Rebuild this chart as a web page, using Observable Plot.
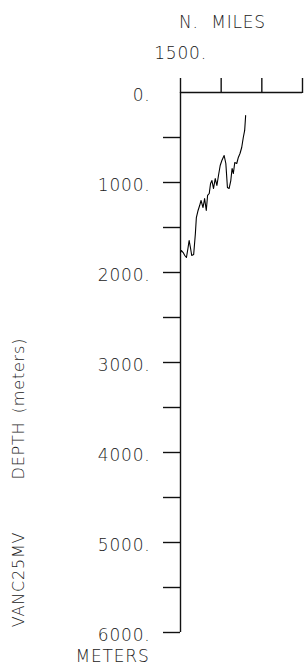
<!DOCTYPE html>
<html>
<head>
<meta charset="utf-8">
<script src="https://cdn.jsdelivr.net/npm/d3@7"></script>
<script src="https://cdn.jsdelivr.net/npm/@observablehq/plot@0.6"></script>
<style>
  html, body { margin: 0; padding: 0; background: #fff; }
</style>
</head>
<body>
<div id="chart"></div>
<script>
// Distance along track (nautical miles) and depth (meters)
const miles = [1500, 1502.4, 1506.6, 1510.5, 1514.6, 1518.3, 1521.2, 1524.4, 1527.6, 1532.4,
  1536.6, 1539, 1543.2, 1547.1, 1550.5, 1555.4, 1559.3, 1563.4, 1566.6, 1570.7,
  1573.9, 1577.3, 1581.2, 1585.4, 1589.5, 1593.4, 1597.6, 1601.7, 1607.3, 1611.5,
  1615.4, 1619.5, 1623.7, 1626.8, 1630, 1633.4, 1638.3, 1642.2, 1646.3, 1650.5,
  1654.4, 1657.8, 1660.2];
const depth = [1778, 1756, 1778, 1811, 1833, 1733, 1644, 1722, 1811, 1800,
  1567, 1389, 1311, 1256, 1200, 1278, 1178, 1311, 1144, 1122,
  1011, 978, 1067, 956, 1033, 922, 811, 756, 700, 789,
  1056, 1067, 978, 844, 900, 778, 789, 722, 678, 611,
  500, 422, 256];

const xTicks = [1500, 1600, 1700, 1800];
const yLabelTicks = [0, 1000, 2000, 3000, 4000, 5000, 6000];
const yMarkTicks = [500, 1000, 1500, 2000, 2500, 3000, 3500, 4000, 4500, 5000, 5500, 6000];

const data = miles.map((m, i) => ({miles: m, depth: depth[i]}));

const ink = "#111";
const txt = "#222";
const chart = Plot.plot({
  width: 304,
  height: 665,
  marginLeft: 180,
  marginRight: 2,
  marginTop: 92,
  marginBottom: 33,
  style: {fontFamily: "DejaVu Sans", fontSize: "17px", fontWeight: 200, letterSpacing: "0.8px", color: txt, background: "#fff", overflow: "visible"},
  x: {domain: [1500, 1800]},
  y: {domain: [0, 6000], reverse: true},
  marks: [
    Plot.axisX({anchor: "top", ticks: xTicks, tickSize: 15, tickPadding: 19, strokeWidth: 1.4, stroke: ink,
      tickFormat: d => d === 1500 ? "1500." : "", label: null, fontSize: 17}),
    Plot.axisY({anchor: "left", ticks: yMarkTicks, tickSize: 17, strokeWidth: 1.4, stroke: ink,
      tickFormat: () => "", label: null}),
    Plot.axisY({anchor: "left", ticks: yLabelTicks, tickSize: 0, tickPadding: 30,
      tickFormat: d => d + ".", label: null, fontSize: 17, dy: 3}),
    Plot.ruleX([1500], {y1: 0, y2: 6000, stroke: ink, strokeWidth: 1.4}),
    Plot.ruleY([0], {stroke: ink, strokeWidth: 1.4}),
    Plot.line(data, {x: "miles", y: "depth", stroke: "#000", strokeWidth: 1.1}),
    Plot.text(["N.  MILES"], {frameAnchor: "top-left", dx: 42, dy: -77, textAnchor: "middle", fontSize: 17, fill: txt}),
    Plot.text(["METERS"], {frameAnchor: "bottom-left", dx: -68, dy: 17, textAnchor: "middle", lineAnchor: "top", fontSize: 17, fill: txt}),
    Plot.text(["(meters)"], {frameAnchor: "left", dx: -162, dy: 13, rotate: -90, textAnchor: "middle", fontSize: 16, fill: txt}),
    Plot.text(["DEPTH"], {frameAnchor: "left", dx: -162, dy: 88, rotate: -90, textAnchor: "middle", fontSize: 16, fill: txt}),
    Plot.text(["VANC25MV"], {frameAnchor: "left", dx: -162, dy: 217, rotate: -90, textAnchor: "middle", fontSize: 16, fill: txt})
  ]
});
document.getElementById("chart").appendChild(chart);
</script>
</body>
</html>
